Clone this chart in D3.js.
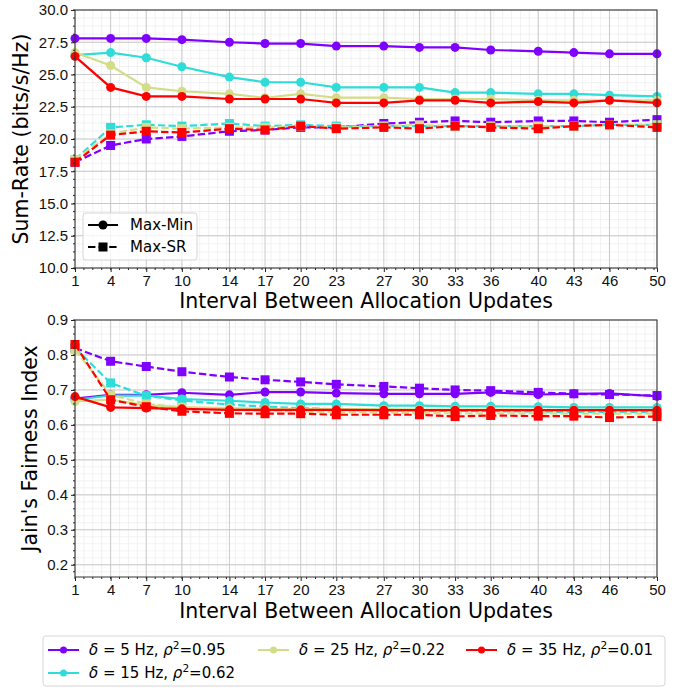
<!DOCTYPE html>
<html>
<head>
<meta charset="utf-8">
<script src="https://cdn.jsdelivr.net/npm/d3@7"></script>
<style>
  body { margin: 0; background: #fff; }
  svg  { font-family: 'DejaVu Sans', sans-serif; }
  .grid-major line { stroke: #c4c4c4; stroke-width: 0.9; }
  .grid-minor line { stroke: #ececec; stroke-width: 0.7; }
  .axis path, .axis line { stroke: #222; }
  .axis text { font-size: 15px; fill: #111; }
</style>
</head>
<body>
<svg id="fig" width="692" height="688"></svg>
<script>
//------------------------------------------------------------------------
// Data
const intervals = [1, 4, 7, 10, 14, 17, 20, 23, 27, 30, 33, 36, 40, 43, 46, 50];

const deltas    = [5, 15, 25, 35];
const rhoSq     = ['0.95', '0.62', '0.22', '0.01'];
const colors    = ['#8000ff', '#2edcd8', '#d3dd88', '#ff0000'];

// Sum-rate, Max-Min (solid) per delta
const rateMinD5  = [27.8,27.8,27.8,27.7,27.5,27.4,27.4,27.2,27.2,27.1,27.1,26.9,26.8,26.7,26.6,26.6];
const rateMinD15 = [26.5,26.7,26.3,25.6,24.8,24.4,24.4,24.0,24.0,24.0,23.6,23.6,23.5,23.5,23.4,23.3];
const rateMinD25 = [26.7,25.7,24.0,23.7,23.5,23.2,23.5,23.2,23.2,23.1,23.1,23.1,23.0,23.0,23.0,23.0];
const rateMinD35 = [26.4,24.0,23.3,23.3,23.1,23.1,23.1,22.8,22.8,23.0,23.0,22.8,22.9,22.8,23.0,22.8];

// Sum-rate, Max-SR (dashed) per delta
const rateSRD5  = [18.2,19.5,20.0,20.2,20.6,20.7,20.9,20.9,21.2,21.3,21.4,21.3,21.4,21.4,21.3,21.5];
const rateSRD15 = [18.4,20.9,21.1,21.0,21.2,21.0,21.1,21.0,21.0,21.0,21.0,21.0,21.0,21.0,21.1,21.1];
const rateSRD25 = [18.4,20.4,20.9,20.8,20.9,20.9,21.0,20.9,21.0,21.1,21.0,21.0,21.0,21.0,21.1,21.1];
const rateSRD35 = [18.2,20.3,20.6,20.5,20.8,20.7,21.0,20.8,20.9,20.8,21.0,20.9,20.8,21.0,21.1,20.9];

// Jain's fairness, Max-Min (solid) per delta
const jainMinD5  = [0.675,0.686,0.686,0.692,0.686,0.694,0.694,0.691,0.689,0.689,0.689,0.693,0.687,0.689,0.690,0.682];
const jainMinD15 = [0.672,0.684,0.684,0.674,0.669,0.664,0.660,0.660,0.655,0.655,0.653,0.653,0.652,0.650,0.650,0.650];
const jainMinD25 = [0.667,0.672,0.656,0.651,0.648,0.646,0.646,0.645,0.645,0.644,0.644,0.644,0.643,0.643,0.643,0.643];
const jainMinD35 = [0.681,0.650,0.648,0.646,0.643,0.643,0.643,0.643,0.642,0.642,0.642,0.642,0.642,0.642,0.642,0.642];

// Jain's fairness, Max-SR (dashed) per delta
const jainSRD5  = [0.820,0.782,0.767,0.752,0.737,0.729,0.723,0.716,0.710,0.705,0.700,0.698,0.693,0.689,0.687,0.684];
const jainSRD15 = [0.820,0.720,0.683,0.670,0.658,0.652,0.648,0.645,0.642,0.641,0.640,0.639,0.638,0.637,0.637,0.637];
const jainSRD25 = [0.815,0.686,0.660,0.650,0.643,0.640,0.638,0.636,0.635,0.634,0.633,0.633,0.633,0.632,0.632,0.632];
const jainSRD35 = [0.830,0.672,0.652,0.639,0.633,0.632,0.632,0.629,0.629,0.629,0.624,0.627,0.625,0.625,0.621,0.624];

const rateTicks = [10, 12.5, 15, 17.5, 20, 22.5, 25, 27.5, 30];
const jainTicks = [0.2, 0.3, 0.4, 0.5, 0.6, 0.7, 0.8, 0.9];

//------------------------------------------------------------------------
// Layout
const svg    = d3.select('#fig');
const plotX0 = 75, plotX1 = 657;
const labelSize = 20.5;
const panels = [
  { top: 10,  bottom: 268, domain: [10, 30],     ticks: rateTicks, fmt: d3.format('.1f'),
    minorStep: 0.625, label: 'Sum-Rate (bits/s/Hz)', labelX: 21,
    solid: [rateMinD5, rateMinD15, rateMinD25, rateMinD35],
    dashed: [rateSRD5, rateSRD15, rateSRD25, rateSRD35], xLabelY: 308 },
  { top: 320, bottom: 577, domain: [0.165, 0.9], ticks: jainTicks, fmt: d3.format('.1f'),
    minorStep: 0.02, label: "Jain's Fairness Index", labelX: 30,
    solid: [jainMinD5, jainMinD15, jainMinD25, jainMinD35],
    dashed: [jainSRD5, jainSRD15, jainSRD25, jainSRD35], xLabelY: 618 }
];

const xScale = d3.scaleLinear().domain([1, 50]).range([plotX0, plotX1]);
const xMinor = d3.range(1, 50.01, 0.75);

const dashPattern = '7.4,3.2';

//------------------------------------------------------------------------
// Function : drawPanel()
// - grid, axes, lines and markers for one subplot
//
function drawPanel(p) {
  const yScale = d3.scaleLinear().domain(p.domain).range([p.bottom, p.top]);
  const yMinor = d3.range(Math.ceil(p.domain[0] / p.minorStep) * p.minorStep, p.domain[1] + 1e-9, p.minorStep);
  const g = svg.append('g');

  // Minor grid
  const gm = g.append('g').attr('class', 'grid-minor');
  gm.selectAll('.vx').data(xMinor).enter().append('line')
    .attr('x1', d => xScale(d)).attr('x2', d => xScale(d))
    .attr('y1', p.top).attr('y2', p.bottom);
  gm.selectAll('.hy').data(yMinor).enter().append('line')
    .attr('y1', d => yScale(d)).attr('y2', d => yScale(d))
    .attr('x1', plotX0).attr('x2', plotX1);

  // Major grid
  const gM = g.append('g').attr('class', 'grid-major');
  gM.selectAll('.vx').data(intervals).enter().append('line')
    .attr('x1', d => xScale(d)).attr('x2', d => xScale(d))
    .attr('y1', p.top).attr('y2', p.bottom);
  gM.selectAll('.hy').data(p.ticks).enter().append('line')
    .attr('y1', d => yScale(d)).attr('y2', d => yScale(d))
    .attr('x1', plotX0).attr('x2', plotX1);

  // Series: solid Max-Min, dashed Max-SR, one color per delta
  const line = d3.line().x((d, i) => xScale(intervals[i])).y(d => yScale(d));
  deltas.forEach((dlt, k) => {
    const s = g.append('g');
    s.append('path').datum(p.solid[k]).attr('d', line)
      .attr('fill', 'none').attr('stroke', colors[k]).attr('stroke-width', 2.2);
    s.selectAll('circle').data(p.solid[k]).enter().append('circle')
      .attr('cx', (d, i) => xScale(intervals[i])).attr('cy', d => yScale(d))
      .attr('r', 4.5).attr('fill', colors[k]);
    s.append('path').datum(p.dashed[k]).attr('d', line)
      .attr('fill', 'none').attr('stroke', colors[k]).attr('stroke-width', 2.2)
      .attr('stroke-dasharray', dashPattern);
    s.selectAll('rect').data(p.dashed[k]).enter().append('rect')
      .attr('x', (d, i) => xScale(intervals[i]) - 4.5).attr('y', d => yScale(d) - 4.5)
      .attr('width', 9).attr('height', 9).attr('fill', colors[k]);
  });

  // Axes
  const xAxis = d3.axisBottom(xScale).tickValues(intervals).tickSize(4).tickPadding(3).tickFormat(d3.format('d'));
  const gx = g.append('g').attr('class', 'axis').attr('transform', `translate(0,${p.bottom})`).call(xAxis);
  gx.select('.domain').remove();
  gx.selectAll('.minor').data(xMinor).enter().append('line').attr('class', 'minor')
    .attr('x1', d => xScale(d)).attr('x2', d => xScale(d)).attr('y1', 0).attr('y2', 2).attr('stroke', '#222');

  const yAxis = d3.axisLeft(yScale).tickValues(p.ticks).tickSize(4).tickPadding(3).tickFormat(p.fmt);
  const gy = g.append('g').attr('class', 'axis').attr('transform', `translate(${plotX0},0)`).call(yAxis);
  gy.select('.domain').remove();
  gy.selectAll('.minor').data(yMinor).enter().append('line').attr('class', 'minor')
    .attr('y1', d => yScale(d)).attr('y2', d => yScale(d)).attr('x1', 0).attr('x2', -2).attr('stroke', '#222');

  // Frame
  g.append('rect').attr('x', plotX0).attr('y', p.top)
    .attr('width', plotX1 - plotX0).attr('height', p.bottom - p.top)
    .attr('fill', 'none').attr('stroke', '#333').attr('stroke-width', 1);

  // Axis labels
  g.append('text').attr('x', (plotX0 + plotX1) / 2).attr('y', p.xLabelY)
    .attr('text-anchor', 'middle').attr('font-size', labelSize).text('Interval Between Allocation Updates');
  g.append('text').attr('transform', `translate(${p.labelX},${(p.top + p.bottom) / 2}) rotate(-90)`)
    .attr('text-anchor', 'middle').attr('dy', '0.35em').attr('font-size', labelSize).text(p.label);
}

panels.forEach(drawPanel);

//------------------------------------------------------------------------
// Inner legend (line styles)
const styleLeg = svg.append('g');
styleLeg.append('rect').attr('x', 83).attr('y', 213).attr('width', 114).attr('height', 47)
  .attr('rx', 3).attr('fill', 'rgba(255,255,255,0.8)').attr('stroke', '#d6d6d6');
[{ name: 'Max-Min', dash: null, y: 225 }, { name: 'Max-SR', dash: dashPattern, y: 247 }].forEach(e => {
  styleLeg.append('line').attr('x1', 88).attr('x2', 118).attr('y1', e.y).attr('y2', e.y)
    .attr('stroke', '#000').attr('stroke-width', 2).attr('stroke-dasharray', e.dash);
  if (e.dash) styleLeg.append('rect').attr('x', 103 - 4.5).attr('y', e.y - 4.5).attr('width', 9).attr('height', 9);
  else styleLeg.append('circle').attr('cx', 103).attr('cy', e.y).attr('r', 4.5);
  styleLeg.append('text').attr('x', 130).attr('y', e.y).attr('dy', '0.35em')
    .attr('font-size', 15).text(e.name);
});

//------------------------------------------------------------------------
// Bottom legend (delta / rho^2), 3 columns
const legPos = [
  { x: 48,  y: 650 }, { x: 48, y: 673 }, { x: 258, y: 650 }, { x: 466, y: 650 }
];
const leg = svg.append('g');
leg.append('rect').attr('x', 43).attr('y', 636).attr('width', 622).attr('height', 50)
  .attr('rx', 3).attr('fill', '#fff').attr('stroke', '#d6d6d6');
deltas.forEach((dlt, k) => {
  const pos = legPos[k];
  leg.append('line').attr('x1', pos.x).attr('x2', pos.x + 31).attr('y1', pos.y).attr('y2', pos.y)
    .attr('stroke', colors[k]).attr('stroke-width', 2);
  leg.append('circle').attr('cx', pos.x + 15.5).attr('cy', pos.y).attr('r', 3.5).attr('fill', colors[k]);
  const t = leg.append('text').attr('x', pos.x + 41).attr('y', pos.y).attr('dy', '0.35em').attr('font-size', 15);
  t.append('tspan').attr('font-style', 'italic').text('δ');
  t.append('tspan').text(` = ${dlt} Hz, `);
  t.append('tspan').attr('font-style', 'italic').text('ρ');
  t.append('tspan').attr('font-size', 10.5).attr('dy', '-0.55em').text('2');
  t.append('tspan').attr('dy', '0.39em').text(`=${rhoSq[k]}`);
});
</script>
</body>
</html>
